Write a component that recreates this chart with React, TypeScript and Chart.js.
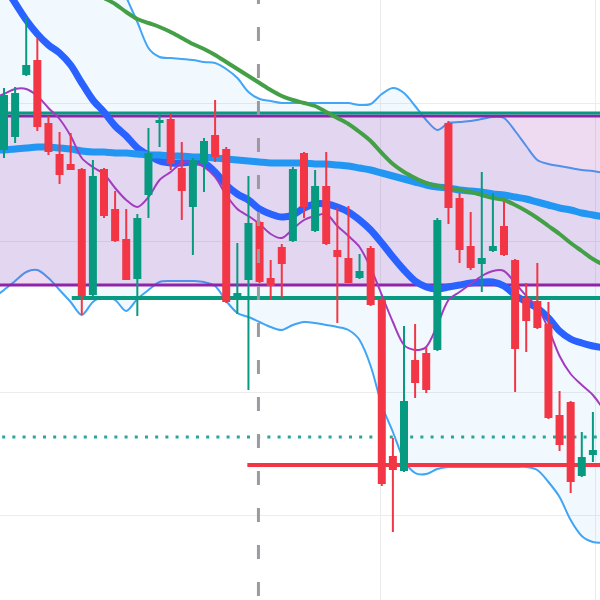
import React, { useEffect, useRef } from "react";
import { Chart, registerables } from "chart.js";

Chart.register(...registerables);

// ---- Candles (price units), bar index 0..53 ----
const opens = [145.0,146.3,152.5,154.0,147.7,144.6,143.6,143.1,130.5,143.1, 139.1,136.1,132.1,140.5,147.7,148.1,143.2,139.3,143.6,146.5, 145.1,130.1,132.0,137.8,132.2,135.3,135.9,144.7,136.9,141.4, 135.0,134.2,132.2,135.2,130.0,114.4,112.9,124.0,124.7,125.0, 147.7,140.2,135.4,133.6,134.9,137.4,134.0,130.2,129.9,127.6, 118.5,119.8,112.4,114.5];
const highs = [151.2,151.3,158.3,156.2,148.4,146.8,146.7,143.2,144.0,143.2, 140.9,139.1,138.6,147.2,148.6,148.6,145.8,144.2,146.2,150.0, 145.3,135.7,142.4,137.9,134.0,135.6,143.3,144.8,143.0,144.8, 139.2,139.4,134.6,135.4,130.2,116.2,127.4,127.6,125.3,138.2, 147.9,140.7,138.8,142.8,140.7,139.8,134.1,131.7,133.7,129.8, 120.9,119.9,116.8,118.8];
const lows = [144.2,145.7,152.4,146.9,144.5,141.6,143.0,128.5,130.3,138.2, 135.8,132.0,128.4,138.2,145.3,143.0,138.0,134.5,140.8,143.8, 129.7,128.6,121.0,131.7,130.1,130.3,135.8,138.2,136.8,135.5, 127.7,131.7,132.1,129.4,111.4,106.8,112.8,120.2,120.7,124.9, 137.6,133.7,133.0,130.8,134.8,134.4,120.8,124.8,127.1,118.1, 114.9,110.7,112.3,113.8];
const closes = [150.5,150.7,153.5,147.3,144.8,142.5,143.0,130.4,142.4,138.4, 135.9,132.0,138.2,144.7,148.0,143.6,140.9,144.0,145.9,144.3, 129.8,130.7,137.7,131.8,131.4,133.6,143.1,139.3,141.4,135.6, 134.3,131.7,132.9,129.5,111.6,113.0,119.9,121.7,121.0,138.0, 139.2,135.0,133.2,134.2,135.4,134.5,125.1,127.9,127.2,118.2, 115.5,111.8,114.3,115.0];

// ---- Indicators, bar index -1..54 (first value is the bar just off the left edge) ----
const indicatorStart = -1;
const maDarkBlue = [163.0, 161.4,159.7,158.0,156.6,155.5,154.7,153.5,151.7,150.0,148.8, 147.4,146.4,145.2,144.5,143.9,143.7,143.7,143.8,143.7,142.8, 141.5,140.6,140.0,139.1,138.6,138.3,138.5,139.2,139.6,139.6, 139.3,138.8,138.0,137.0,135.7,134.3,133.0,131.9,131.3,131.1, 131.3,131.5,131.7,131.8,131.8,131.4,130.5,129.8,129.2,128.2, 126.9,126.1,125.7,125.4,125.2];
const maLightBlue = [145.0, 145.0,145.1,145.2,145.3,145.3,145.2,145.1,144.9,144.8,144.8, 144.7,144.7,144.6,144.5,144.5,144.4,144.4,144.3,144.3,144.2, 144.1,144.0,143.9,143.8,143.7,143.7,143.7,143.7,143.6,143.6, 143.5,143.4,143.2,143.0,142.7,142.4,142.1,141.8,141.5,141.3, 141.2,141.0,140.9,140.8,140.6,140.5,140.3,140.1,139.8,139.5, 139.2,139.0,138.7,138.5,138.3];
const maGreen = [null, null,null,null,null,null,null,null,null,160.8,160.2, 159.6,158.8,158.1,157.7,157.3,156.8,156.2,155.6,155.1,154.5, 153.8,153.1,152.4,151.7,151.0,150.4,150.0,149.7,149.4,148.8, 148.2,147.6,146.8,145.9,144.7,143.6,142.8,142.2,141.7,141.4, 141.2,141.0,140.8,140.5,140.2,140.0,139.5,138.9,138.2,137.4, 136.6,135.7,134.9,134.1,133.5];
const maPurple = [150.2, 150.6,151.1,151.1,150.4,149.2,148.1,146.4,144.2,143.3,142.6, 141.2,140.0,139.3,140.3,142.0,142.8,143.7,143.8,143.3,142.3, 140.5,139.1,138.4,137.6,136.6,136.2,137.1,138.0,138.4,138.6, 137.4,136.4,135.3,133.2,130.5,127.8,125.5,125.0,125.3,127.5, 130.0,130.8,131.6,132.4,132.9,132.9,131.7,130.4,129.3,127.1, 124.4,122.6,121.5,120.5,119.0];
const bbUpper = [172.5, 172.0,171.5,171.0,170.5,170.0,169.5,169.0,168.0,167.0,165.5, 163.0,160.3,157.8,155.2,154.3,154.2,154.1,154.0,153.8,153.7, 153.1,152.2,150.8,150.1,149.9,149.7,149.7,149.7,149.7,149.7, 149.7,149.7,149.5,149.6,150.6,151.2,150.7,149.4,148.0,147.0, 147.7,147.8,147.9,148.1,148.3,148.2,146.9,145.4,144.0,143.6, 143.4,143.2,143.0,142.9,142.7];
const bbLower = [130.2, 131.0,131.9,132.8,133.0,132.2,131.0,129.8,128.5,129.8,130.3, 130.0,128.9,130.1,131.0,131.8,131.9,131.9,131.9,131.8,131.4, 129.9,128.7,128.3,127.8,127.3,127.0,127.5,127.8,127.7,127.5, 127.3,127.0,126.0,123.4,119.5,116.8,114.0,112.7,112.6,113.1, 113.3,113.3,113.3,113.3,113.3,113.3,113.3,113.3,113.0,111.8, 110.3,108.0,106.4,105.8,105.7];

// ---- Levels ----
const tealTop = 148.7;
const purpleTop = 148.4;
const purpleBottom = 131.5;
const tealBottom = 130.2;
const tealBottomStart = 6.1;
const redLevel = 113.5;
const redLevelStart = 21.9;
const dottedLevel = 116.3;
const markerX = 22.9;

// ---- Axes / grid ----
const xMin = -0.36;
const xMax = 53.64;
const yMin = 100;
const yMax = 160;
const xGrid = [33.84, 53.2];
const yGrid = [149.7, 135.8, 120.8, 108.5];

const UP = "#089981";
const DOWN = "#f23645";

export default function App() {
  const ref = useRef<HTMLCanvasElement>(null);
  useEffect(() => {
    document.body.style.margin = "0";
    const canvas = ref.current;
    if (!canvas) return;
    const idx = opens.map((_, i) => i);
    const colors = idx.map((i) => (closes[i] >= opens[i] ? UP : DOWN));
    const series = (vals: (number | null)[]) =>
      vals
        .map((v, i) => ({ x: i + indicatorStart, y: v }))
        .filter((p) => p.y !== null);
    const hline = (y: number, from = -2, to = 56) => [
      { x: from, y },
      { x: to, y },
    ];
    const lineBase = { pointRadius: 0, fill: false, tension: 0 };

    const chart = new Chart(canvas, {
      type: "line",
      data: {
        datasets: [
          {
            ...lineBase,
            data: [
              { x: markerX, y: 161 },
              { x: markerX, y: 99 },
            ],
            borderColor: "#9a9aa0",
            borderWidth: 3,
            borderDash: [14, 23],
            order: -1,
          },
          {
            type: "bar",
            data: idx.map((i) => ({ x: i, y: [opens[i], closes[i]] })),
            backgroundColor: colors,
            borderWidth: 0,
            maxBarThickness: 8,
            grouped: false,
            minBarLength: 2,
            order: 0,
          },
          {
            type: "bar",
            data: idx.map((i) => ({ x: i, y: [lows[i], highs[i]] })),
            backgroundColor: colors,
            borderWidth: 0,
            maxBarThickness: 2,
            grouped: false,
            order: 1,
          },
          { ...lineBase, tension: 0.3, data: series(maPurple), borderColor: "#a33bbf", borderWidth: 2, order: 2 },
          { ...lineBase, tension: 0.3, data: series(maGreen), borderColor: "#43a047", borderWidth: 4, order: 3 },
          { ...lineBase, tension: 0.3, data: series(maLightBlue), borderColor: "#2196f3", borderWidth: 7, order: 4 },
          { ...lineBase, tension: 0.3, data: series(maDarkBlue), borderColor: "#2962ff", borderWidth: 7, order: 5 },
          { ...lineBase, data: hline(redLevel, redLevelStart), borderColor: DOWN, borderWidth: 4, order: 8 },
          {
            ...lineBase,
            data: hline(dottedLevel),
            borderColor: "#26a69a",
            borderWidth: 3,
            borderDash: [3, 7.2],
            order: 9,
          },
          { ...lineBase, data: hline(tealTop), borderColor: UP, borderWidth: 3, order: 10 },
          { ...lineBase, data: hline(tealBottom, tealBottomStart), borderColor: UP, borderWidth: 4, order: 11 },
          {
            ...lineBase,
            data: hline(purpleTop),
            borderColor: "#8e24aa",
            borderWidth: 3,
            fill: "+1",
            backgroundColor: "rgba(156,39,176,0.17)",
            order: 12,
          },
          { ...lineBase, data: hline(purpleBottom), borderColor: "#8e24aa", borderWidth: 3, order: 13 },
          {
            ...lineBase,
            tension: 0.3,
            data: series(bbUpper),
            borderColor: "#42a5f5",
            borderWidth: 2,
            fill: "+1",
            backgroundColor: "rgba(33,150,243,0.06)",
            order: 14,
          },
          { ...lineBase, tension: 0.3, data: series(bbLower), borderColor: "#42a5f5", borderWidth: 2, order: 15 },
        ],
      },
      options: {
        responsive: false,
        animation: false,
        layout: { autoPadding: false, padding: 0 },
        elements: { point: { radius: 0 } },
        plugins: { legend: { display: false }, tooltip: { enabled: false } },
        scales: {
          x: {
            type: "linear",
            min: xMin,
            max: xMax,
            offset: false,
            border: { display: false },
            ticks: { display: false },
            grid: { color: "#ececec", lineWidth: 1, drawTicks: false, offset: false },
            afterBuildTicks: (scale: any) => {
              scale.ticks = xGrid.map((v) => ({ value: v }));
            },
          },
          y: {
            type: "linear",
            min: yMin,
            max: yMax,
            beginAtZero: false,
            border: { display: false },
            ticks: { display: false },
            grid: { color: "#ececec", lineWidth: 1, drawTicks: false },
            afterBuildTicks: (scale: any) => {
              scale.ticks = yGrid.map((v) => ({ value: v }));
            },
          },
        },
      },
    } as any);
    return () => chart.destroy();
  }, []);
  return (
    <canvas
      ref={ref}
      width={600}
      height={600}
      style={{ display: "block", position: "absolute", left: 0, top: 0 }}
    />
  );
}
